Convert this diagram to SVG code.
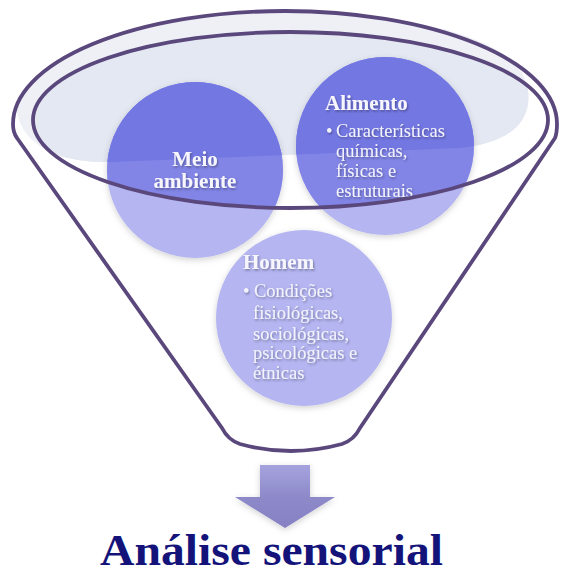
<svg xmlns="http://www.w3.org/2000/svg" width="561" height="575" viewBox="0 0 561 575">
  <style>
    .pale { fill: #b4b5f1; }
    .mid { fill: #8285e6; }
    .deep { fill: #7377e2; }
    .head { font-family: "Liberation Serif", "Times New Roman", serif; font-weight: bold; font-size: 21px; fill: #f6f6fc; }
    .body { font-family: "Liberation Serif", "Times New Roman", serif; font-size: 18.5px; fill: #f3f3fb; }
    .rim-line { fill: none; stroke: #5a487d; stroke-width: 3.8; stroke-linejoin: round; }
    .title { font-family: "Liberation Serif", "Times New Roman", serif; font-weight: bold; font-size: 45px; fill: #14137a; }
  </style>
  <defs>
    <!-- inner rim of the funnel mouth -->
    <clipPath id="rim">
      <ellipse cx="290.5" cy="120" rx="257.5" ry="88"/>
    </clipPath>
    <!-- soft haze across the funnel mouth -->
    <path id="haze-shape" d="M17,110 C14,70 120,14 285,12 C420,12 500,40 520,70 C530,85 530,100 526,112 C518,135 490,145 460,148 L110,162 C50,163 20,140 17,110 Z"/>
    <clipPath id="haze">
      <use href="#haze-shape"/>
    </clipPath>
    <filter id="disc-shadow" x="-20%" y="-20%" width="140%" height="140%">
      <feDropShadow dx="0" dy="2" stdDeviation="3" flood-color="#000" flood-opacity="0.18"/>
    </filter>
    <filter id="text-shadow" x="-10%" y="-30%" width="120%" height="160%">
      <feDropShadow dx="1" dy="1.5" stdDeviation="1.2" flood-color="#000" flood-opacity="0.35"/>
    </filter>
    <linearGradient id="arrow-fill" x1="0" y1="0" x2="0" y2="1">
      <stop offset="0" stop-color="#a5a3de"/>
      <stop offset="0.5" stop-color="#8e8aca"/>
      <stop offset="1" stop-color="#8581c2"/>
    </linearGradient>
  </defs>

  <!-- funnel mouth background -->
  <g id="funnel-haze">
    <use href="#haze-shape" fill="#eef0f6"/>
    <g clip-path="url(#rim)">
      <use href="#haze-shape" fill="#e4e8f2"/>
    </g>
  </g>

  <!-- Meio ambiente -->
  <g id="meio-ambiente">
    <circle class="pale" cx="195" cy="170" r="88" filter="url(#disc-shadow)"/>
    <circle class="mid" cx="195" cy="170" r="88" clip-path="url(#rim)"/>
    <g clip-path="url(#rim)">
      <circle class="deep" cx="195" cy="170" r="88" clip-path="url(#haze)"/>
    </g>
    <g filter="url(#text-shadow)">
      <text class="head" x="195" y="166" text-anchor="middle">Meio</text>
      <text class="head" x="195" y="188" text-anchor="middle">ambiente</text>
    </g>
  </g>

  <!-- Alimento -->
  <g id="alimento">
    <circle class="pale" cx="385" cy="146" r="89" filter="url(#disc-shadow)"/>
    <circle class="mid" cx="385" cy="146" r="89" clip-path="url(#rim)"/>
    <g clip-path="url(#rim)">
      <circle class="deep" cx="385" cy="146" r="89" clip-path="url(#haze)"/>
    </g>
    <g filter="url(#text-shadow)">
      <text class="head" x="325" y="110">Alimento</text>
      <text class="body" x="326" y="137">•</text>
      <text class="body" x="336" y="137">Características</text>
      <text class="body" x="336" y="157">químicas,</text>
      <text class="body" x="336" y="177">físicas e</text>
      <text class="body" x="336" y="197">estruturais</text>
    </g>
  </g>

  <!-- Homem -->
  <g id="homem">
    <circle class="pale" cx="304" cy="318" r="88" filter="url(#disc-shadow)"/>
    <g filter="url(#text-shadow)">
      <text class="head" x="243" y="269">Homem</text>
      <text class="body" x="243" y="297">•</text>
      <text class="body" x="254" y="297">Condições</text>
      <text class="body" x="253" y="318.5">fisiológicas,</text>
      <text class="body" x="253" y="339.5">sociológicas,</text>
      <text class="body" x="253" y="359">psicológicas e</text>
      <text class="body" x="253" y="379">étnicas</text>
    </g>
  </g>

  <!-- funnel outline and inner rim -->
  <g id="funnel">
    <path class="rim-line" d="M13,124 A272,113 0 0 1 557,124 C557,130 557,133 555,138 L360,428 Q354,440 342,444 Q291,458 240,444 Q228,440 222,428 L17,138 C14,134 13,130 13,124 Z"/>
    <ellipse class="rim-line" cx="290.5" cy="120" rx="257.5" ry="88"/>
  </g>

  <!-- connector: funnel to result -->
  <g id="connectors">
    <polygon points="260,465 310,465 310,497 335,497 285,528 235,497 260,497" fill="url(#arrow-fill)" filter="url(#disc-shadow)"/>
  </g>

  <g id="analise-sensorial">
    <text class="title" x="100" y="565" textLength="343" lengthAdjust="spacingAndGlyphs">Análise sensorial</text>
  </g>
</svg>
